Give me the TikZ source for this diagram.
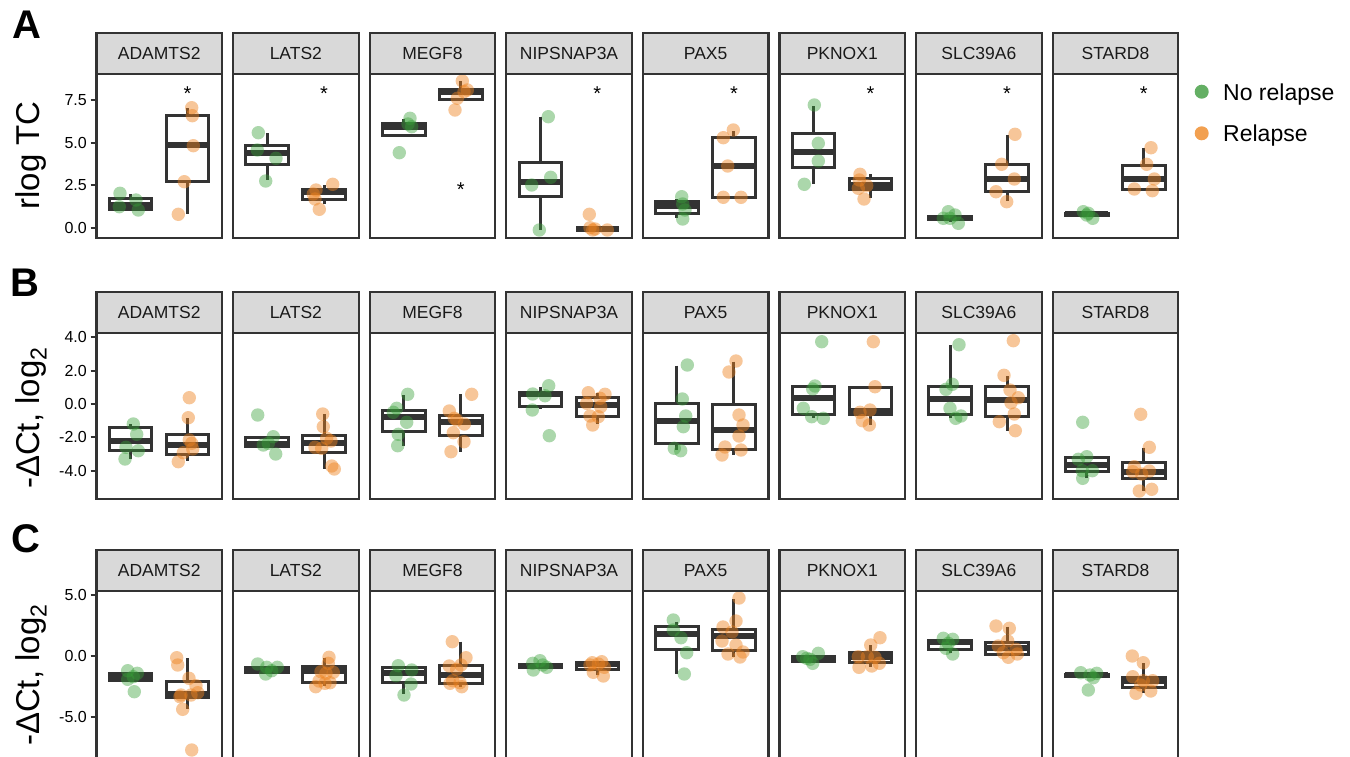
\documentclass[tikz,border=0pt]{standalone}
\usepackage{fontspec}
\setmainfont{Liberation Sans}
\definecolor{gbase}{RGB}{55,160,55}
\definecolor{obase}{RGB}{238,130,30}
\definecolor{lgreen}{RGB}{100,175,100}
\definecolor{lorange}{RGB}{242,160,80}
\definecolor{frame}{RGB}{51,51,51}
\definecolor{stripbg}{RGB}{217,217,217}
\definecolor{txt}{RGB}{26,26,26}
\newcommand{\fsz}[1]{\fontsize{#1}{#1}\selectfont}
\newcommand{\bp}[6]{%
  \draw[whisk] (#1,#2) -- (#1,#3) (#1,#5) -- (#1,#6);
  \draw[boxl] (#1-21.3,#3) rectangle (#1+21.3,#5);
  \draw[medl] (#1-21.3,#4) -- (#1+21.3,#4);
}
\newcommand{\gpts}[1]{\foreach \xx/\yy in {#1} {\fill[gpt] (\xx,\yy) circle (6.7);}}
\newcommand{\opts}[1]{\foreach \xx/\yy in {#1} {\fill[opt] (\xx,\yy) circle (6.7);}}
\tikzset{
  whisk/.style={draw=frame, line width=3pt},
  boxl/.style={draw=frame, line width=3pt, fill=white},
  medl/.style={draw=frame, line width=6pt},
  gpt/.style={fill=gbase, fill opacity=0.42},
  opt/.style={fill=obase, fill opacity=0.45},
  stripbox/.style={fill=stripbg, draw=frame, line width=2.2pt},
  panelbox/.style={draw=frame, line width=2.2pt},
  striptext/.style={text=txt, font=\fsz{17.5}, inner sep=0pt},
  ticklab/.style={text=black, font=\fsz{16}, inner sep=0pt, anchor=east},
  tickmark/.style={draw=frame, line width=2pt},
  ast/.style={font=\fsz{20}, inner sep=0pt, anchor=base},
  ytitle/.style={font=\fsz{33}, rotate=90, inner sep=0pt},
  rowlab/.style={font=\fsz{40}\bfseries, inner sep=0pt},
  legtext/.style={font=\fsz{23}, inner sep=0pt, anchor=base west}
}
\begin{document}
\begin{tikzpicture}[x=1pt,y=-1pt]
\useasboundingbox (0,0) rectangle (1350,756);
\fill[white] (0,0) rectangle (1350,756);
\clip (0,0) rectangle (1350,756);
% strips
\foreach \row/\st/\pb in {A/33/238,B/291.7/498.7,C/550/780}{
  \foreach \i/\nm in {0/ADAMTS2,1/LATS2,2/MEGF8,3/NIPSNAP3A,4/PAX5,5/PKNOX1,6/SLC39A6,7/STARD8}{
    \pgfmathsetmacro\xa{96.5+136.6*\i}
    \pgfmathsetmacro\xb{\xa+125.5}
    \pgfmathsetmacro\sb{\st+41}
    \pgfmathsetmacro\xm{\xa+62.75}
    \pgfmathsetmacro\ym{\st+20.5}
    \draw[stripbox] (\xa,\st) rectangle (\xb,\sb);
    \node[striptext] (s\row\i) at (\xm,\ym) {\nm};
  }
}
% ---------- Row A boxes ----------
\bp{130.5}{194}{198}{205}{209.3}{209.3}
\bp{187.5}{108.3}{115}{145.3}{181}{214}
\bp{267.1}{133.3}{145.7}{152.7}{164}{180}
\bp{324.1}{185}{189}{191.5}{199.3}{204}
\bp{403.7}{119}{123.3}{127}{135.7}{135.7}
\bp{460.7}{81}{89}{91.5}{99}{99}
\bp{540.3}{116.7}{162.3}{181.7}{196}{230}
\bp{597.3}{228.7}{228.7}{228.7}{228.7}{228.7}
\bp{676.9}{199.3}{201.7}{205.5}{213.3}{218.3}
\bp{733.9}{131}{137.7}{166}{197.7}{197.7}
\bp{813.5}{106}{133.3}{152.3}{167.7}{184.3}
\bp{870.5}{174.3}{178.3}{185}{189.3}{198.3}
\bp{950.1}{217.3}{216}{217.5}{219}{222}
\bp{1007.1}{135}{164.3}{179}{191.7}{201}
\bp{1086.7}{214}{213}{214}{215}{215}
\bp{1143.7}{148.3}{165}{179}{189.3}{189.3}
% Row A points
\gpts{120/193.3,119.3/206.7,136/200,138.3/210}
\opts{191.7/107.7,192.3/115.7,193.3/145.7,184.3/181.7,178.3/214.3}
\gpts{258.3/132.7,257.3/150,276/158.3,265.7/181}
\opts{316/190,332.7/184.3,315/199,319.3/209.3,313.3/194}
\gpts{410/118.3,411.7/126.7,399.3/152.7,408/124}
\opts{462.3/81,467.3/90,464/91.7,457.3/98.3,455/110}
\gpts{548.3/116.7,550.7/177.3,531.7/185,539.3/230}
\opts{589.3/214.3,590/227.7,592.7/230,607.3/230,595/229}
\gpts{681.7/196.7,682.7/204,685/210,682.7/219}
\opts{733.3/130,723.3/137.7,727.7/166,723.3/197.3,741/197.3}
\gpts{814.3/105,818.3/143.3,818.3/161,804.3/184.3}
\opts{860/174.3,859.3/180,866.7/185.7,858.3/188.3,864/199}
\gpts{948.3/211.7,943.3/218.3,955/215,958.3/223.3,950/218.3}
\opts{1015/134.3,1001.7/164.3,1014.3/179,996/191.7,1006.7/201.7}
\gpts{1083.3/211.7,1088.3/213.3,1092.7/218.3,1086.7/215}
\opts{1151/147.7,1146.7/164.3,1154.3/179,1134.3/189,1152.3/190.7}
% asterisks
\foreach \k/\ax/\ay in {1/187.5/100.8,2/324.1/100.8,3/460.7/196.5,4/597.3/100.8,5/733.9/100.8,6/870.5/100.8,7/1007.1/100.8,8/1143.7/100.8}{
  \node[ast] (ast\k) at (\ax,\ay) {*};
}
% ---------- Row B boxes ----------
\bp{130.5}{424}{427.7}{441}{450}{459.3}
\bp{187.5}{418.3}{434.3}{445}{454.3}{461}
\bp{267.1}{437.5}{437.5}{444}{446.5}{446.5}
\bp{324.1}{414.3}{435.7}{443.3}{452.7}{469.3}
\bp{403.7}{395}{410}{417}{431.7}{445.7}
\bp{460.7}{394.3}{415.7}{422.3}{435.7}{451.7}
\bp{540.3}{386.7}{392.7}{394.3}{406}{409.3}
\bp{597.3}{393.3}{397.3}{405.3}{416.7}{424}
\bp{676.9}{365.7}{403.7}{421}{443.3}{450}
\bp{733.9}{361.7}{404.7}{430}{449}{455}
\bp{813.5}{386.7}{386.7}{398.3}{414.7}{418.3}
\bp{870.5}{387.7}{387.7}{410.7}{414.7}{425}
\bp{950.1}{345}{386}{399}{414.7}{418.3}
\bp{1007.1}{376}{386.7}{400}{416}{430.7}
\bp{1086.7}{457.3}{457.3}{465}{471.7}{477.7}
\bp{1143.7}{447.7}{462}{471.7}{478}{490.7}
% Row B points
\gpts{133.3/424,136.7/434.3,126/447.3,138.3/450.7,125/459}
\opts{189.3/397.7,188.3/417.7,189.3/440,192.7/449,183.3/452.7,178.3/461.7,191.7/443.3}
\gpts{257.7/415,273.3/436.7,268.3/443.3,263.3/445,275.7/454}
\opts{322.7/414,323.3/426.7,326.7/438.3,331/441,315/447.3,321.7/448.3,331.7/466,334.3/469}
\gpts{407.7/394.3,396.7/408.3,393.3/412.3,406.7/422.3,398.3/434.3,397.7/445.7}
\opts{471.7/394.3,449.3/411,454.3/418.3,464.3/424,453.3/432.7,464/441.7,451/451.7,456.7/420}
\gpts{548.7/385.7,532.7/394,545/395.7,532.3/410,549.3/435.7}
\opts{588.3/392.7,605/394.3,600/398.3,586.7/403.3,600.7/406.7,590/416,598.3/416.7,592.7/425}
\gpts{687.3/365,682.3/399,685.7/416,683.3/426.7,674.3/448.3,680.7/450.7}
\opts{736/361,729/372,739/415,743/425,739/436,741/450,725/447,722/455}
\gpts{821.7/341.7,815/386,812.7/389,803.3/408.3,811.7/416.7,823.3/418.3}
\opts{873.3/341.7,875/386.7,870/410,860/412.3,862.3/420.7,869.3/425}
\gpts{959/344.7,952.3/384.3,946/389.3,950/408.3,955.7/418.3,961/416}
\opts{1013.3/340.7,1004/375.3,1010/390,1018.3/397.7,1011/402.7,1014.3/414,999.3/421.7,1015.3/430.7}
\gpts{1082.7/422.3,1086.7/456.7,1078.3/459.3,1082.3/470.7,1092.3/470.7,1082.7/478.3}
\opts{1140.7/414.3,1149.3/447.3,1134.3/466.7,1132.7/471.7,1141.7/474,1149.3/471,1151.7/489.3,1139.3/491}
% ---------- Row C boxes ----------
\bp{130.5}{673.3}{673.3}{676.7}{680.7}{680.7}
\bp{187.5}{658.3}{681}{694.3}{697.3}{709.3}
\bp{267.1}{667.3}{667.3}{670}{672.7}{672.7}
\bp{324.1}{658.3}{666.7}{671}{682.3}{686}
\bp{403.7}{667.7}{667.7}{673.3}{682.3}{694.3}
\bp{460.7}{641.7}{665.3}{675.3}{683.7}{686.7}
\bp{540.3}{665.7}{664.5}{665.7}{667}{667}
\bp{597.3}{662.7}{662.7}{664}{669.3}{675}
\bp{676.9}{621.7}{626.7}{634.3}{649.3}{674.3}
\bp{733.9}{599.3}{629}{636}{650.7}{656.7}
\bp{813.5}{659}{656.7}{659}{661.7}{661.7}
\bp{870.5}{645}{652.7}{656.7}{662.3}{666.7}
\bp{950.1}{640}{640}{642.3}{649.3}{653.3}
\bp{1007.1}{626.7}{642.3}{647.7}{654}{654}
\bp{1086.7}{675}{674}{675}{676}{676}
\bp{1143.7}{663.3}{677}{681}{687.7}{693.3}
% Row C points
\gpts{127.7/670.7,137.3/673.3,127.7/679.3,134.3/691.7,133.3/676.7}
\opts{176.7/657.7,177.7/665,189/678.3,196/685.7,197.7/692.7,181/695,191/695,180/696.7,182.7/709.3,191.7/750}
\gpts{257.7/664,266.7/667.3,277.3/667.3,265.7/674,271.7/670.7}
\opts{329/657.3,328.3/663.3,321/671.7,333.3/672.3,326/673.3,319/681,330/682.7,315.7/686.7,325/683.3}
\gpts{398.3/665.7,411.7/670,396/675.7,411/684,404/695}
\opts{452.3/641.7,466/657.7,449.3/666,461/665,456.7/669.3,450/683.3,460/682.7,461.7/686.7,452.7/680.7}
\gpts{532.7/663.3,540/660.7,546.7/667.3,533.3/670,542.7/665}
\opts{592.3/662.7,601.7/661.7,590/665,604.3/667.3,593.3/672.3,603.3/676,598.3/664}
\gpts{673.3/620,673.3/630,681/637.7,686.7/652.7,684.3/674}
\opts{739/598,736/621,723/627,732/632,722/641,736/645,743/652,728/654,740/657}
\gpts{802.7/656.7,818.3/653.3,812.7/663.3,810/659.3,806.7/658.3}
\opts{880/637.7,870.7/645,858.3/656.7,867.3/656.7,875/657.3,879.3/663.3,859/667.3,871.7/666}
\gpts{943.3/638.3,952.7/639.3,946/648.3,952.7/654,948.3/643.3}
\opts{996/626,1009.3/628.3,1007.7/641,998.3/646,1016/649.3,1003.3/652.7,1017.3/654,1008.3/657.3}
\gpts{1080.7/672.7,1090/675,1096.7/673.3,1093.3/677.7,1088.3/690}
\opts{1132.3/656,1143.3/662.7,1132.7/676.7,1143.3/680.7,1152.7/680.7,1140.7/685,1136/693.3,1150.7/691}
% panel borders
\foreach \row/\st/\pb in {A/33/238,B/291.7/498.7,C/550/780}{
  \foreach \i in {0,...,7}{
    \pgfmathsetmacro\xa{96.5+136.6*\i}
    \pgfmathsetmacro\xb{\xa+125.5}
    \pgfmathsetmacro\sb{\st+41}
    \draw[panelbox] (\xa,\sb) rectangle (\xb,\pb);
  }
}
% y axes
\foreach \k/\v/\y in {1/7.5/100.1,2/5.0/142.6,3/2.5/185.2,4/0.0/227.7}{
  \draw[tickmark] (90.5,\y) -- (96.5,\y);
  \node[ticklab] (tA\k) at (87,\y) {\v};
}
\foreach \k/\v/\y in {1/4.0/337.2,2/2.0/370.6,3/0.0/404,4/-2.0/437.4,5/-4.0/470.8}{
  \draw[tickmark] (90.5,\y) -- (96.5,\y);
  \node[ticklab] (tB\k) at (87,\y) {\v};
}
\foreach \k/\v/\y in {1/5.0/594.8,2/0.0/656,3/-5.0/717.2}{
  \draw[tickmark] (90.5,\y) -- (96.5,\y);
  \node[ticklab] (tC\k) at (87,\y) {\v};
}
\node[ytitle] (yA) at (31,155.5) {rlog TC};
\node[ytitle] (yB) at (31,418) {-ΔCt, log\textsubscript{2}};
\node[ytitle] (yC) at (31,675) {-ΔCt, log\textsubscript{2}};
% row letters
\node[rowlab] (lA) at (26.5,25) {A};
\node[rowlab] (lB) at (25,282.3) {B};
\node[rowlab] (lC) at (26,539) {C};
% legend
\fill[lgreen] (1201.7,91.7) circle (7);
\fill[lorange] (1201.7,133.3) circle (7);
\node[legtext] (leg1) at (1223,100) {No relapse};
\node[legtext] (leg2) at (1223,141.7) {Relapse};
\end{tikzpicture}
\end{document}
